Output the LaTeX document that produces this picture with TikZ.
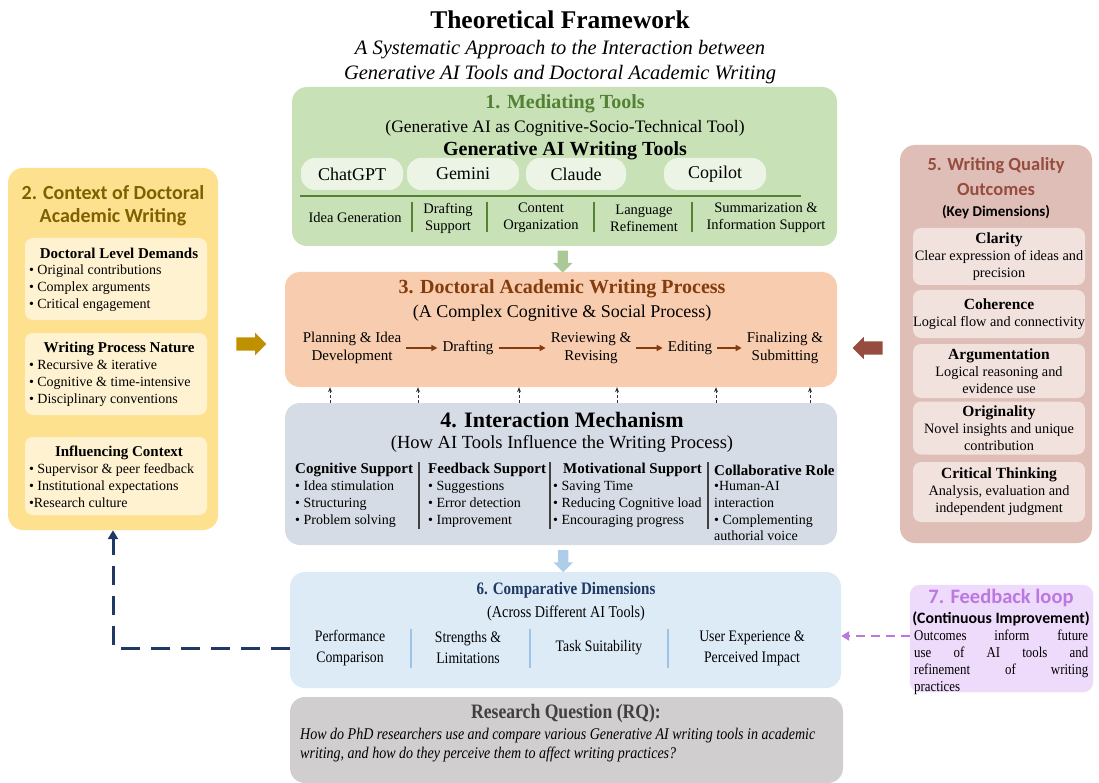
\documentclass[tikz,border=0pt]{standalone}
\usepackage{fontspec}
\setmainfont{Liberation Serif}
\newfontfamily\calfont{Carlito}
\newfontfamily\condfont[FakeStretch=0.86]{Liberation Serif}
\usetikzlibrary{calc}
\usetikzlibrary{arrows.meta}
\usetikzlibrary{shapes.arrows}

%% colours of the panels
\definecolor{toolsfill}{RGB}{200,225,182}
\definecolor{toolspill}{RGB}{236,244,230}
\definecolor{toolsdark}{RGB}{84,130,53}
\definecolor{ctxfill}{RGB}{254,225,142}
\definecolor{ctxcard}{RGB}{255,242,208}
\definecolor{ctxdark}{RGB}{127,96,0}
\definecolor{ctxarrow}{RGB}{191,144,0}
\definecolor{procfill}{RGB}{248,204,175}
\definecolor{procdark}{RGB}{132,60,12}
\definecolor{interfill}{RGB}{214,220,229}
\definecolor{qualfill}{RGB}{222,190,182}
\definecolor{qualcard}{RGB}{242,226,222}
\definecolor{qualdark}{RGB}{150,76,62}
\definecolor{compfill}{RGB}{221,235,247}
\definecolor{compline}{RGB}{157,195,230}
\definecolor{compdark}{RGB}{31,56,100}
\definecolor{loopfill}{RGB}{238,218,250}
\definecolor{loopdark}{RGB}{186,120,225}
\definecolor{rqfill}{RGB}{208,206,206}
\definecolor{rqdark}{RGB}{64,64,64}

\tikzset{
  panel/.style={rounded corners=15pt, inner sep=0pt},
  card/.style={rounded corners=8pt, inner sep=0pt},
  txt/.style={inner sep=0pt, align=center, font=\fontsize{14.5}{17}\selectfont},
  bullets/.style={inner sep=0pt, align=left, anchor=north west,
                  font=\fontsize{14}{17}\selectfont},
  boxtitle/.style={inner sep=0pt, align=center, font=\bfseries\fontsize{20}{23}\selectfont},
  subtitle/.style={inner sep=0pt, align=center, font=\fontsize{17.5}{20}\selectfont},
  calititle/.style={inner sep=0pt, align=center, font=\calfont\bfseries\fontsize{20}{23}\selectfont},
  blockarrow/.style={single arrow, inner sep=6.5pt, minimum height=30pt,
                     single arrow head extend=4.5pt},
}

\begin{document}
\begin{tikzpicture}[x=1pt,y=-1pt]

  \useasboundingbox[fill=white] (0,0) rectangle (1099,783);

  %% heading
  \node[inner sep=0pt, font=\bfseries\fontsize{25.5}{28}\selectfont] (heading) at (560,20)
       {Theoretical Framework};
  \node[inner sep=0pt, align=center, font=\itshape\fontsize{20.5}{25}\selectfont] (heading/sub) at (560,62)
       {A Systematic Approach to the Interaction between\\Generative AI Tools and Doctoral Academic Writing};

  %% 1. mediating tools
  \node[panel, fill=toolsfill, minimum width=545pt, minimum height=159pt] (tools) at (564.5,166.5) {};
  \node[boxtitle, text=toolsdark] (tools/title) at (565,104) {1. Mediating Tools};
  \node[subtitle] (tools/sub) at (565,128) {(Generative AI as Cognitive-Socio-Technical Tool)};
  \node[boxtitle] (tools/head) at (565,151) {Generative AI Writing Tools};
  \foreach \myname/\myx/\myw in {ChatGPT/352/102,Gemini/463/112,Claude/576/100,Copilot/715/102}
  {
    \node[card, rounded corners=14pt, fill=toolspill, minimum width=\myw pt, minimum height=32pt,
          font=\fontsize{18}{20}\selectfont] (pill-\myname) at (\myx,174) {\myname};
  }
  \draw[toolsdark, line width=2.2pt] (300,196) -- (801,196);
  \foreach \myn/\myx/\mytext in {1/355/{Idea Generation},2/448/{Drafting\\Support},
                                 3/541/{Content\\Organization},4/644/{Language\\Refinement},
                                 5/766/{Summarization \&\\Information Support}}
  {
    \node[txt] (use\myn) at (\myx,218) {\mytext};
  }
  \foreach \myx in {412,487,594,692}
  {
    \draw[toolsdark, line width=1.5pt] (\myx,202) -- (\myx,232);
  }

  %% 2. context of doctoral academic writing
  \node[panel, fill=ctxfill, minimum width=210pt, minimum height=362pt] (context) at (113,349) {};
  \node[calititle, text=ctxdark] (context/title) at (113,206) {2. Context of Doctoral\\Academic Writing};
  \foreach \myname/\myy/\myh/\mytitle/\mylist in
     {demands/279/82/{Doctoral Level Demands}/{\textbullet\ Original contributions\\\textbullet\ Complex arguments\\\textbullet\ Critical engagement},
      nature/374/82/{Writing Process Nature}/{\textbullet\ Recursive \& iterative\\\textbullet\ Cognitive \& time-intensive\\\textbullet\ Disciplinary conventions},
      influence/476/78/{Influencing Context}/{\textbullet\ Supervisor \& peer feedback\\\textbullet\ Institutional expectations\\\textbullet Research culture}}
  {
    \node[card, fill=ctxcard, minimum width=182pt, minimum height=\myh pt] (\myname) at (116,\myy) {};
    \node[txt, font=\bfseries\fontsize{15}{17}\selectfont] (\myname/title) at ($(\myname.north)+(3,16)$) {\mytitle};
    \node[bullets] (\myname/list) at ($(\myname.north west)+(4,27)$) {\mylist};
  }

  %% 3. doctoral academic writing process
  \node[panel, fill=procfill, minimum width=552pt, minimum height=115pt] (process) at (561,329.5) {};
  \node[boxtitle, text=procdark] (process/title) at (562,289) {3. Doctoral Academic Writing Process};
  \node[subtitle, font=\fontsize{18}{20}\selectfont] (process/sub) at (562,313) {(A Complex Cognitive \& Social Process)};
  \foreach \myn/\myx/\mytext in {1/352/{Planning \& Idea\\Development},2/468/{Drafting},
                                 3/591/{Reviewing \&\\Revising},4/690/{Editing},
                                 5/785/{Finalizing \&\\Submitting}}
  {
    \node[txt, font=\fontsize{15}{18}\selectfont] (step\myn) at (\myx,348) {\mytext};
  }
  \foreach \myn [count=\mynext from 2] in {1,2,3,4}
  {
    \draw[procdark, line width=1.6pt, -{Triangle[length=6pt,width=6pt]},
          shorten <=5pt, shorten >=5pt] (step\myn) -- (step\mynext);
  }

  %% 4. interaction mechanism
  \node[panel, fill=interfill, minimum width=552pt, minimum height=142pt] (inter) at (561,474) {};
  \node[boxtitle, font=\bfseries\fontsize{22}{24}\selectfont] (inter/title) at (562,420) {4. Interaction Mechanism};
  \node[subtitle, font=\fontsize{18.5}{20}\selectfont] (inter/sub) at (562,444) {(How AI Tools Influence the Writing Process)};
  \foreach \myname/\myx/\mylx/\mytitle/\mylist in
     {cognitive/295/295/{Cognitive Support}/{\textbullet\ Idea stimulation\\\textbullet\ Structuring\\\textbullet\ Problem solving},
      feedback/428/428/{Feedback Support}/{\textbullet\ Suggestions\\\textbullet\ Error detection\\\textbullet\ Improvement},
      motivation/563/553/{Motivational Support}/{\textbullet\ Saving Time\\\textbullet\ Reducing Cognitive load\\\textbullet\ Encouraging progress},
      collab/714/714/{Collaborative Role}/{\textbullet Human-AI\\interaction\\\textbullet\ Complementing\\authorial voice}}
  {
    \node[txt, anchor=west, font=\bfseries\fontsize{15}{17}\selectfont] (\myname) at (\myx,470) {\mytitle};
    \node[bullets, font=\fontsize{14}{16.8}\selectfont] (\myname/list) at (\mylx,481) {\mylist};
  }
  \foreach \myx in {419,550,708}
  {
    \draw[black!75, line width=1.3pt] (\myx,462) -- (\myx,529);
  }

  %% interaction drives the process
  \foreach \myx in {330,418,519,617,716,810}
  {
    \draw[black!80, line width=0.9pt, dash pattern=on 3pt off 2pt, -{Stealth[length=5pt,width=4pt]}]
         (inter.north -| \myx,0) -- (process.south -| \myx,0);
  }

  %% 5. writing quality outcomes
  \node[panel, fill=qualfill, minimum width=192pt, minimum height=398pt] (quality) at (996,344) {};
  \node[calititle, font=\calfont\bfseries\fontsize{18.5}{25}\selectfont, text=qualdark] (quality/title) at (996,177)
       {5. Writing Quality\\Outcomes};
  \node[inner sep=0pt, font=\calfont\bfseries\fontsize{15}{17}\selectfont] (quality/sub) at (996,212) {(Key Dimensions)};
  \foreach \myname/\myy/\myh/\mytitle/\mytext in
     {clarity/256.5/57/{Clarity}/{Clear expression of ideas and\\precision},
      coherence/314/48/{Coherence}/{Logical flow and connectivity},
      argument/371/54/{Argumentation}/{Logical reasoning and\\evidence use},
      original/428/53/{Originality}/{Novel insights and unique\\contribution},
      critical/492/60/{Critical Thinking}/{Analysis, evaluation and\\independent judgment}}
  {
    \node[card, fill=qualcard, minimum width=172pt, minimum height=\myh pt] (\myname) at (999,\myy) {};
    \node[txt, font=\fontsize{14.3}{17}\selectfont] (\myname/text) at (\myname)
         {{\bfseries\fontsize{15.5}{17}\selectfont\mytitle}\\\mytext};
  }

  %% block arrows into the process
  \node[blockarrow, fill=ctxarrow] (ctxarrow) at (248,344) {};
  \node[blockarrow, fill=qualdark, shape border rotate=180] (qualarrow) at (871,348) {};
  \path (tools.south) -- (process.north) coordinate[midway] (toolsmid);
  \node[blockarrow, fill=toolsfill!75!toolsdark, shape border rotate=270, inner sep=5pt,
        minimum height=22pt] (toolsarrow) at (toolsmid) {};

  %% 6. comparative dimensions
  \node[panel, fill=compfill, minimum width=551pt, minimum height=116pt] (compare) at (565.5,630) {};
  \path (inter.south) -- (compare.north) coordinate[midway] (intermid);
  \node[blockarrow, fill=compline!75!compfill, shape border rotate=270, inner sep=5pt,
        minimum height=22pt] (interarrow) at (intermid) {};
  \node[inner sep=0pt, font=\condfont\bfseries\fontsize{17.5}{20}\selectfont, text=compdark] (compare/title) at (566,590)
       {6. Comparative Dimensions};
  \node[inner sep=0pt, font=\condfont\fontsize{16.5}{19}\selectfont] (compare/sub) at (566,613) {(Across Different AI Tools)};
  \foreach \myn/\myx/\mytext in {1/350/{Performance\\Comparison},2/468/{Strengths \&\\Limitations},
                                 3/599/{Task Suitability},4/752/{User Experience \&\\Perceived Impact}}
  {
    \node[txt, font=\condfont\fontsize{16}{21}\selectfont] (dim\myn) at (\myx,648) {\mytext};
  }
  \foreach \myx in {411,530,668}
  {
    \draw[compline, line width=1.2pt] (\myx,629) -- (\myx,668);
  }

  %% 7. feedback loop
  \node[card, rounded corners=10pt, fill=loopfill, draw=loopdark!25, minimum width=183pt, minimum height=107pt]
       (loop) at (1001.5,638.5) {};
  \node[inner sep=0pt, font=\calfont\bfseries\fontsize{20.5}{22}\selectfont, text=loopdark] (loop/title) at (1001,598)
       {7. Feedback loop};
  \node[inner sep=0pt, font=\calfont\bfseries\fontsize{15.8}{17}\selectfont] (loop/sub) at (1001,619)
       {(Continuous Improvement)};
  \node[inner sep=0pt, anchor=north west, align=left, font=\condfont\fontsize{15}{17}\selectfont] (loop/text) at (914,630)
       {\makebox[174pt][s]{Outcomes inform future}\\\makebox[174pt][s]{use of AI tools and}\\
        \makebox[174pt][s]{refinement of writing}\\practices};

  %% research question
  \node[panel, fill=rqfill, minimum width=553pt, minimum height=86pt] (rq) at (566.5,740) {};
  \node[inner sep=0pt, font=\condfont\bfseries\fontsize{20.5}{23}\selectfont, text=rqdark] (rq/title) at (566,714)
       {Research Question (RQ):};
  \node[inner sep=0pt, anchor=north west, align=left, font=\condfont\itshape\fontsize{16.3}{19}\selectfont] (rq/text) at (300,728)
       {How do PhD researchers use and compare various Generative AI writing tools in academic\\
        writing, and how do they perceive them to affect writing practices?};

  %% feedback connectors
  \draw[compdark, line width=3pt, dash pattern=on 19pt off 11pt,
        -{Triangle[length=9pt,width=10pt]}]
       (compare.west |- 0,648) -| (context.south);
  \draw[loopdark, line width=2.5pt, dash pattern=on 9pt off 6pt,
        -{Triangle[length=8pt,width=9pt]}]
       (loop.west |- 0,636) -- (compare.east |- 0,636);

\end{tikzpicture}
\end{document}
